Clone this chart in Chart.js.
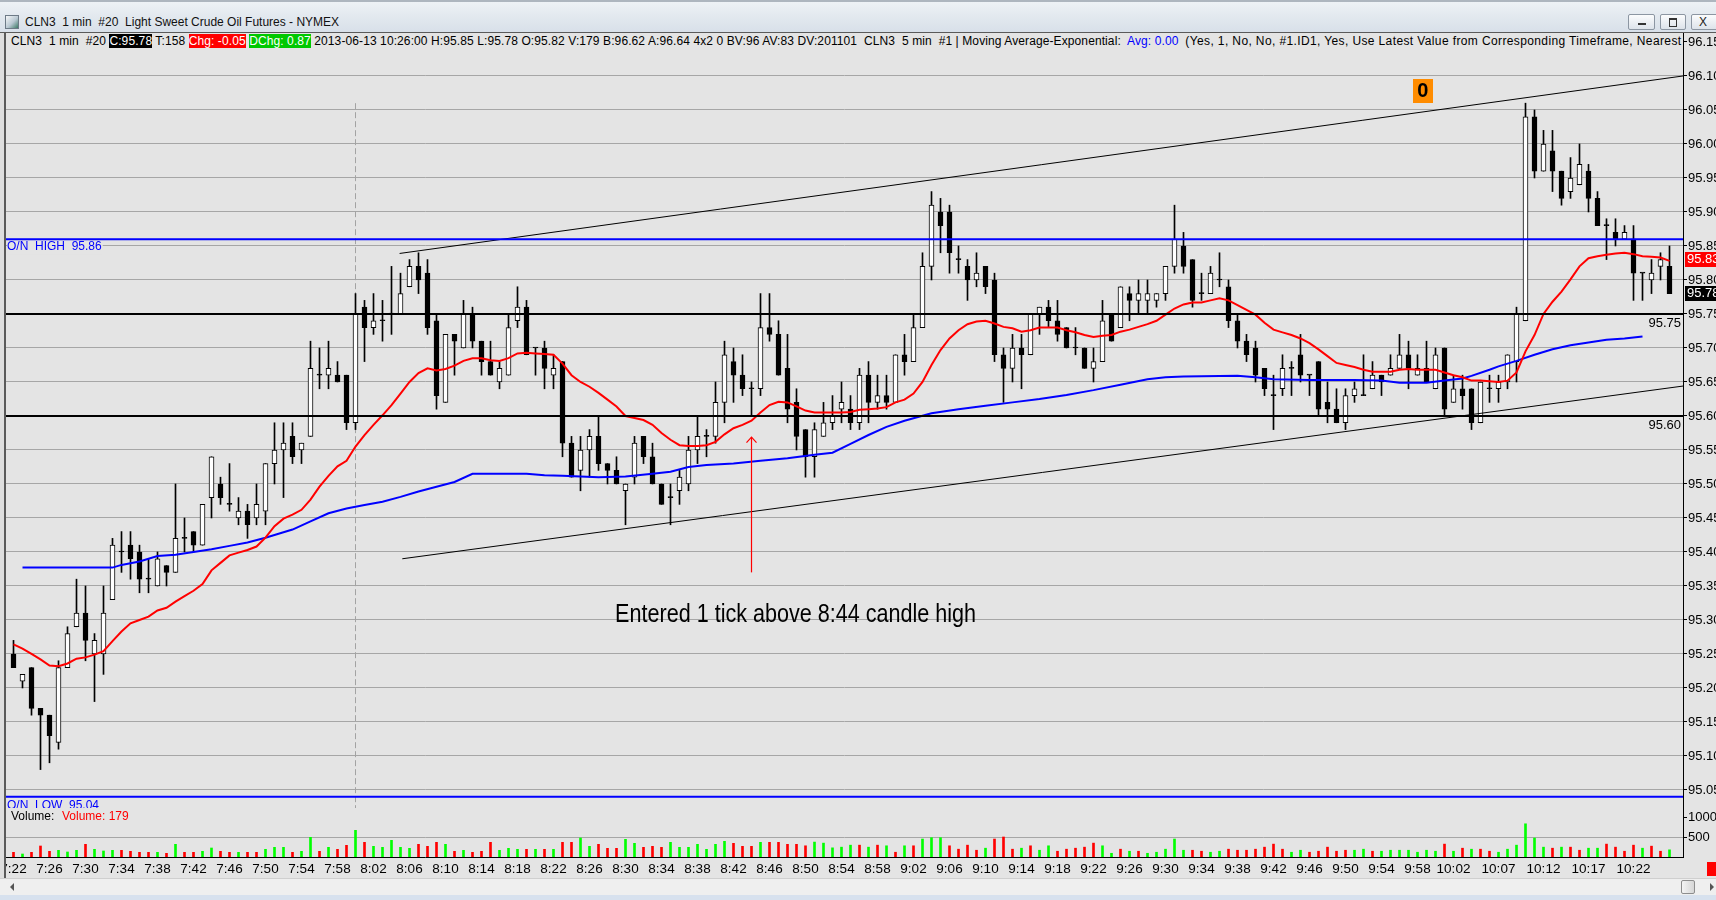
<!DOCTYPE html>
<html>
<head>
<meta charset="utf-8">
<title>CLN3 1 min #20 Light Sweet Crude Oil Futures - NYMEX</title>
<script src="https://cdn.jsdelivr.net/npm/chart.js@4.4.1/dist/chart.umd.min.js"></script>
<style>
  html, body { margin:0; padding:0; }
  body { width:1716px; height:900px; position:relative; overflow:hidden; background:#e4e4e4; font-family:'Liberation Sans', Arial, sans-serif; }
  #titlebar { position:absolute; left:0; top:0; width:1716px; height:32px; box-sizing:border-box;
    border-top:2px solid #aeb6bf; background:linear-gradient(#eef2f6 0%, #e3e9ef 45%, #d8e0e9 100%); }
  #titlebar .icon { position:absolute; left:5px; top:13px; width:12px; height:12px; border:1px solid #6d7a86;
    background:linear-gradient(135deg,#f6f7f8 0%, #b9c8d2 55%, #3d7a66 100%); }
  #titlebar .txt { position:absolute; left:25px; top:13px; font-size:12px; color:#111; white-space:pre; }
  .wbtn { position:absolute; top:12px; height:16px; border:1px solid #8c96a2; border-radius:2px; box-sizing:border-box;
    background:linear-gradient(#fbfcfd,#dde3ea); }
  .wbtn .min { position:absolute; left:9px; top:8px; width:8px; height:2px; background:#333; }
  .wbtn .max { position:absolute; left:8px; top:3px; width:6px; height:6px; border:1px solid #333; border-top-width:2px; }
  .wbtn .x { position:absolute; left:7px; top:0px; font-size:12px; line-height:14px; color:#222; }
  #frameTop { position:absolute; left:0; top:32px; width:1716px; height:1px; background:#5a5a5a; }
  #leftFrame { position:absolute; left:0; top:33px; width:4px; height:845px; background:#dedede; border-right:2px solid #5a5a5a; z-index:3; }
  #header { position:absolute; left:6px; top:33px; width:1677px; height:16px; overflow:hidden; white-space:pre;
    font-size:12px; letter-spacing:0.1px; line-height:16px; color:#000; background:#e4e4e4; z-index:2; padding-left:5px; box-sizing:border-box; }
  #header .blk { background:#000; color:#fff; }
  #header .red { background:#ff0000; color:#fff; }
  #header .grn { background:#00c800; color:#fff; }
  #header .blu { color:#0000ff; }
  #header .tail { letter-spacing:0.38px; }
  #pWrap { position:absolute; left:0; top:33px; width:1716px; height:775px; }
  #vWrap { position:absolute; left:0; top:808px; width:1716px; height:70px; }
  #scroll { position:absolute; left:0; top:878px; width:1716px; height:17px; background:#efefef; border-top:1px solid #cfcfcf; box-sizing:border-box; }
  #scroll .la { position:absolute; left:10px; top:4px; width:0; height:0; border-top:4px solid transparent; border-bottom:4px solid transparent; border-right:4px solid #555; }
  #scroll .thumb { position:absolute; left:1681px; top:1px; width:14px; height:14px; box-sizing:border-box; border:1px solid #8d8d8d; border-radius:2px; background:linear-gradient(90deg,#f4f4f4,#d6d6d6); }
  #scroll .ra { position:absolute; left:1710px; top:4px; width:0; height:0; border-top:4px solid transparent; border-bottom:4px solid transparent; border-left:4px solid #555; }
  #bottomStrip { position:absolute; left:0; top:895px; width:1716px; height:5px; background:#d7e1ee; }
</style>
</head>
<body>
<div id="titlebar">
  <div class="icon"></div>
  <div class="txt">CLN3  1 min  #20  Light Sweet Crude Oil Futures - NYMEX</div>
  <div class="wbtn" style="left:1628px;width:27px;"><div class="min"></div></div>
  <div class="wbtn" style="left:1660px;width:26px;"><div class="max"></div></div>
  <div class="wbtn" style="left:1691px;width:27px;"><div class="x">X</div></div>
</div>
<div id="frameTop"></div>
<div id="pWrap"><canvas id="pc" width="1716" height="775"></canvas></div>
<div id="vWrap"><canvas id="vc" width="1716" height="70"></canvas></div>
<div id="header">CLN3  1 min  #20 <span class="blk">C:95.78</span> T:158 <span class="red">Chg: -0.05</span> <span class="grn">DChg: 0.87</span> 2013-06-13 10:26:00 H:95.85 L:95.78 O:95.82 V:179 B:96.62 A:96.64 4x2 0 BV:96 AV:83 DV:201101  CLN3  5 min  #1 | Moving Average-Exponential:  <span class="blu">Avg: 0.00</span>  <span class="tail">(Yes, 1, No, No, #1.ID1, Yes, Use Latest Value from Corresponding Timeframe, Nearest Match)</span></div>
<div id="leftFrame"></div>
<div id="scroll"><div class="la"></div><div class="thumb"></div><div class="ra"></div></div>
<div id="bottomStrip"></div>

<script>
// ---------------- DATA ----------------
const startTime = '7:22';
const barCount = 185;
const shownTicks = ['7:22','7:26','7:30','7:34','7:38','7:42','7:46','7:50','7:54','7:58','8:02','8:06','8:10','8:14','8:18','8:22','8:26','8:30','8:34','8:38','8:42','8:46','8:50','8:54','8:58','9:02','9:06','9:10','9:14','9:18','9:22','9:26','9:30','9:34','9:38','9:42','9:46','9:50','9:54','9:58','10:02','10:07','10:12','10:17','10:22'];
const priceTicks = [95.05,95.10,95.15,95.20,95.25,95.30,95.35,95.40,95.45,95.50,95.55,95.60,95.65,95.70,95.75,95.80,95.85,95.90,95.95,96.00,96.05,96.10,96.15];
const volumeTicks = [500, 1000];

const open = [95.25,95.21,95.23,95.17,95.16,95.12,95.23,95.29,95.31,95.25,
95.25,95.33,95.40,95.41,95.40,95.36,95.35,95.38,95.37,95.42,
95.43,95.41,95.48,95.50,95.47,95.45,95.46,95.45,95.46,95.53,
95.55,95.57,95.55,95.57,95.66,95.66,95.66,95.66,95.59,95.76,
95.73,95.74,95.75,95.75,95.79,95.82,95.81,95.74,95.62,95.72,
95.70,95.75,95.71,95.68,95.65,95.66,95.74,95.76,95.70,95.70,
95.66,95.68,95.56,95.52,95.55,95.57,95.53,95.52,95.49,95.51,
95.57,95.54,95.50,95.48,95.49,95.50,95.55,95.57,95.57,95.62,
95.68,95.66,95.64,95.64,95.73,95.72,95.67,95.62,95.58,95.54,
95.57,95.59,95.61,95.61,95.59,95.66,95.62,95.63,95.62,95.69,
95.68,95.73,95.82,95.90,95.90,95.83,95.82,95.80,95.82,95.80,
95.69,95.67,95.70,95.69,95.75,95.76,95.74,95.73,95.70,95.70,
95.67,95.68,95.75,95.73,95.78,95.77,95.77,95.77,95.78,95.82,
95.85,95.83,95.78,95.78,95.80,95.79,95.74,95.71,95.70,95.67,
95.63,95.64,95.67,95.69,95.66,95.68,95.62,95.61,95.59,95.63,
95.63,95.64,95.66,95.66,95.67,95.69,95.66,95.67,95.64,95.70,
95.62,95.64,95.64,95.59,95.64,95.64,95.65,95.68,95.74,96.04,
95.96,95.99,95.96,95.93,95.94,95.96,95.92,95.88,95.87,95.86,
95.86,95.81,95.80,95.82,95.82];

const high = [95.27,95.22,95.23,95.17,95.16,95.24,95.29,95.36,95.35,95.28,
95.35,95.42,95.43,95.43,95.41,95.39,95.40,95.38,95.50,95.45,
95.43,95.47,95.54,95.51,95.53,95.48,95.47,95.50,95.53,95.59,
95.59,95.59,95.56,95.71,95.70,95.71,95.68,95.66,95.78,95.77,
95.78,95.77,95.82,95.81,95.83,95.84,95.83,95.75,95.72,95.72,
95.77,95.76,95.71,95.71,95.68,95.75,95.79,95.77,95.70,95.71,
95.69,95.68,95.57,95.57,95.58,95.60,95.53,95.54,95.50,95.57,
95.57,95.56,95.50,95.50,95.52,95.57,95.60,95.58,95.65,95.71,
95.70,95.69,95.65,95.78,95.78,95.74,95.72,95.64,95.58,95.59,
95.62,95.63,95.65,95.63,95.67,95.68,95.66,95.66,95.69,95.72,
95.75,95.84,95.93,95.92,95.91,95.85,95.83,95.84,95.82,95.81,
95.70,95.72,95.72,95.75,95.76,95.77,95.77,95.73,95.73,95.70,
95.70,95.77,95.75,95.79,95.79,95.80,95.80,95.78,95.82,95.91,
95.87,95.83,95.81,95.82,95.84,95.80,95.75,95.72,95.71,95.67,
95.66,95.69,95.68,95.72,95.66,95.68,95.65,95.64,95.64,95.65,
95.69,95.68,95.66,95.69,95.72,95.71,95.69,95.71,95.70,95.70,
95.66,95.66,95.64,95.65,95.66,95.66,95.69,95.76,96.06,96.05,
96.02,96.02,95.96,95.98,96.00,95.97,95.93,95.89,95.89,95.88,
95.88,95.81,95.83,95.84,95.85];

const low = [95.23,95.20,95.16,95.08,95.09,95.11,95.23,95.29,95.24,95.18,
95.22,95.33,95.37,95.36,95.34,95.34,95.35,95.35,95.37,95.40,
95.40,95.41,95.45,95.47,95.46,95.44,95.42,95.44,95.44,95.50,
95.48,95.53,95.53,95.57,95.64,95.64,95.65,95.58,95.58,95.68,
95.72,95.71,95.72,95.75,95.79,95.78,95.72,95.61,95.62,95.66,
95.70,95.70,95.66,95.66,95.64,95.66,95.73,95.69,95.66,95.64,
95.64,95.54,95.51,95.49,95.51,95.52,95.50,95.50,95.44,95.50,
95.53,95.50,95.47,95.44,95.47,95.49,95.53,95.54,95.56,95.59,
95.62,95.63,95.60,95.63,95.71,95.66,95.59,95.55,95.51,95.51,
95.57,95.58,95.59,95.58,95.58,95.59,95.61,95.61,95.62,95.66,
95.68,95.73,95.80,95.84,95.81,95.81,95.77,95.79,95.78,95.68,
95.62,95.65,95.64,95.69,95.72,95.73,95.71,95.70,95.69,95.67,
95.65,95.68,95.71,95.73,95.74,95.75,95.75,95.76,95.77,95.81,
95.81,95.76,95.77,95.78,95.79,95.73,95.70,95.68,95.65,95.63,
95.58,95.63,95.63,95.65,95.63,95.60,95.59,95.59,95.58,95.62,
95.63,95.64,95.63,95.66,95.67,95.64,95.66,95.65,95.64,95.60,
95.62,95.61,95.58,95.59,95.62,95.62,95.64,95.65,95.74,95.95,
95.96,95.93,95.91,95.92,95.94,95.90,95.88,95.83,95.85,95.86,
95.77,95.77,95.78,95.80,95.78];

const close = [95.23,95.22,95.17,95.16,95.13,95.23,95.28,95.31,95.27,95.27,
95.31,95.41,95.40,95.39,95.36,95.36,95.39,95.37,95.42,95.42,
95.41,95.47,95.54,95.48,95.47,95.46,95.44,95.47,95.53,95.55,
95.56,95.54,95.56,95.67,95.66,95.67,95.65,95.59,95.75,95.73,
95.74,95.74,95.75,95.78,95.82,95.80,95.73,95.63,95.72,95.71,
95.75,95.71,95.68,95.66,95.67,95.73,95.76,95.69,95.70,95.67,
95.67,95.56,95.51,95.55,95.57,95.53,95.52,95.50,95.50,95.56,
95.54,95.50,95.47,95.48,95.51,95.55,95.57,95.57,95.62,95.69,
95.66,95.64,95.64,95.73,95.72,95.66,95.61,95.57,95.54,95.58,
95.59,95.60,95.62,95.59,95.66,95.62,95.63,95.62,95.69,95.68,
95.73,95.82,95.91,95.88,95.84,95.83,95.80,95.81,95.79,95.69,
95.67,95.70,95.69,95.75,95.76,95.74,95.72,95.70,95.70,95.67,
95.68,95.74,95.71,95.79,95.77,95.78,95.78,95.78,95.82,95.86,
95.82,95.77,95.78,95.81,95.80,95.74,95.71,95.69,95.66,95.64,
95.63,95.67,95.67,95.66,95.66,95.61,95.61,95.59,95.63,95.64,
95.63,95.66,95.65,95.67,95.69,95.67,95.67,95.65,95.69,95.61,
95.64,95.63,95.59,95.65,95.64,95.65,95.69,95.75,96.04,95.96,
96.00,95.96,95.92,95.95,95.97,95.92,95.88,95.88,95.86,95.87,
95.81,95.81,95.81,95.83,95.78];

const volume = [117,75,117,275,142,167,125,167,317,192,
150,167,167,142,117,117,117,92,317,117,
117,142,225,142,117,117,117,117,192,242,
242,117,142,492,142,242,192,292,667,367,
267,242,417,242,217,317,267,367,317,142,
167,117,142,367,167,217,192,192,192,192,
192,367,367,475,267,317,217,217,442,342,
242,267,242,367,242,242,317,192,317,392,
342,267,267,367,367,367,317,317,280,373,
347,229,246,296,296,246,296,280,119,280,
280,449,483,483,280,195,296,169,220,449,
500,195,220,280,169,280,144,195,220,246,
347,280,93,195,144,144,93,119,195,449,
169,169,144,119,144,195,169,169,195,246,
322,195,119,169,119,144,246,144,169,169,
195,144,144,169,169,169,119,169,144,322,
144,220,195,195,144,119,195,296,830,474,
246,220,246,246,169,220,220,322,246,144,
296,220,271,144,179];

// volume bar direction: g = up (green), r = down (red)
const volumeDir = 'rgrrrgggrg' + 'ggrrrrgrgr' + 'rggrrgrrgg' + 'grggrgrrgr' + 'gggggrrrgr' +
                  'grrrgggrgr' + 'grrggrrrgg' + 'rrrggggggg' + 'rrrgrrrrrg' + 'ggggrgrgrg' +
                  'rgggrrrrgr' + 'rrgrggrrrr' + 'rggrgrgggg' + 'grrggrrrrr' + 'rrggrrrrrg' +
                  'grgggggggr' + 'grgrrggggg' + 'grgrrggrrr' + 'rgrrggr';

// fast EMA (red), one value per bar
const emaFast = [95.264,95.258,95.250,95.242,95.233,95.232,95.236,95.243,95.245,95.249,
95.254,95.269,95.283,95.295,95.300,95.305,95.314,95.318,95.327,95.335,
95.343,95.353,95.373,95.384,95.395,95.399,95.403,95.408,95.421,95.438,
95.449,95.455,95.462,95.477,95.496,95.512,95.526,95.534,95.555,95.572,
95.587,95.601,95.616,95.633,95.650,95.663,95.670,95.667,95.669,95.674,
95.681,95.685,95.685,95.682,95.681,95.685,95.692,95.693,95.692,95.691,
95.690,95.677,95.660,95.650,95.643,95.634,95.624,95.614,95.600,95.597,
95.594,95.587,95.575,95.565,95.557,95.556,95.556,95.557,95.562,95.573,
95.582,95.587,95.593,95.605,95.616,95.621,95.620,95.614,95.608,95.605,
95.605,95.605,95.605,95.606,95.609,95.610,95.611,95.613,95.620,95.624,
95.633,95.650,95.675,95.697,95.714,95.726,95.735,95.739,95.740,95.736,
95.731,95.729,95.724,95.726,95.730,95.730,95.730,95.726,95.723,95.719,
95.716,95.718,95.719,95.724,95.727,95.731,95.735,95.740,95.749,95.758,
95.764,95.767,95.767,95.770,95.773,95.770,95.763,95.756,95.749,95.737,
95.727,95.723,95.719,95.714,95.707,95.698,95.688,95.678,95.675,95.672,
95.668,95.665,95.665,95.665,95.668,95.669,95.668,95.668,95.668,95.664,
95.660,95.657,95.652,95.652,95.651,95.650,95.652,95.664,95.695,95.719,
95.750,95.768,95.783,95.801,95.820,95.832,95.835,95.837,95.839,95.840,
95.838,95.835,95.834,95.833,95.828];

// slow EMA from the 5 min series (blue), read at these bar indices
const emaSlowIdx = [1,11,12,14,16,18,20,22,24,26,28,30,31,33,35,37,39,41,43,45,47,49,51,57,59,61,63,65,68,71,73,75,77,80,83,86,89,91,93,95,97,99,102,105,108,111,114,117,120,123,126,128,130,136,138,140,144,149,152,154,157,159,161,162,164,165,167,169,171,173,175,177,179,181];
const emaSlow = [95.377,95.377,95.381,95.386,95.394,95.396,95.400,95.404,95.409,95.414,95.421,95.429,95.433,95.445,95.457,95.464,95.469,95.474,95.481,95.489,95.496,95.503,95.515,95.515,95.513,95.512,95.511,95.510,95.511,95.515,95.518,95.525,95.528,95.530,95.534,95.538,95.543,95.546,95.559,95.572,95.584,95.593,95.604,95.610,95.615,95.620,95.625,95.631,95.638,95.646,95.654,95.657,95.658,95.659,95.657,95.654,95.653,95.653,95.652,95.649,95.649,95.652,95.655,95.659,95.668,95.673,95.681,95.690,95.698,95.704,95.708,95.712,95.714,95.717];

// drawn levels and objects (prices / bar indices)
const onHigh = 95.86, onLow = 95.04;
const levelLines = [95.75, 95.60];
const upperTrend = [[42.9, 95.839], [185.5, 96.10]];
const lowerTrend = [[43.2, 95.390], [185.5, 95.644]];
const sessionBar = 38, sessionTop = 96.06;
const entryBar = 82, arrowTip = 95.569, arrowTail = 95.37;
const noteText = 'Entered 1 tick above 8:44 candle high';
const notePos = [86.9, 95.307];
const markerPos = [156.6, 96.078], markerText = '0';
const emaLast = 95.83, lastClose = 95.78, lastVolume = 179;

// ---------------- BUILD ----------------
function toMin(t){ const [h,m] = t.split(':').map(Number); return h*60+m; }
const times = Array.from({length: barCount}, (_, i) => {
  const m = toMin(startTime) + i;
  return Math.floor(m/60) + ':' + String(m%60).padStart(2,'0');
});
const idx = times.map((_, i) => i);

const X_MIN = -0.8333, X_MAX = 185.5;
const Y_MIN = 95.0235, Y_MAX = 96.1632;
const NARROW = "'Liberation Sans Narrow','Liberation Sans',Arial,sans-serif";
const SANS = "'Liberation Sans',Arial,sans-serif";

const wickData = idx.map(i => ({x: i, y: [low[i], high[i]]}));
const bodyData = idx.map(i => ({x: i, y: [open[i], close[i]]}));
const bodyFill = idx.map(i => close[i] > open[i] ? '#ffffff' : '#000000');

function hLine(p){ return [{x: X_MIN, y: p}, {x: X_MAX, y: p}]; }
function seg(a){ return a.map(([x, y]) => ({x, y})); }

const priceDeco = {
  id: 'priceDeco',
  beforeDatasetsDraw(chart) {
    const {ctx, chartArea, scales: {x, y}} = chart;
    const px = Math.floor(x.getPixelForValue(sessionBar)) + 0.5;
    ctx.save();
    ctx.strokeStyle = '#a3a3a3'; ctx.lineWidth = 1; ctx.setLineDash([6, 3]);
    ctx.beginPath(); ctx.moveTo(px, y.getPixelForValue(sessionTop)); ctx.lineTo(px, chartArea.bottom); ctx.stroke();
    ctx.restore();
  },
  afterDatasetsDraw(chart) {
    const {ctx, chartArea, scales: {x, y}} = chart;
    ctx.save();
    ctx.font = '12px ' + SANS; ctx.textBaseline = 'top'; ctx.textAlign = 'left';
    const hiY = y.getPixelForValue(onHigh);
    const tHi = 'O/N  HIGH  ' + onHigh.toFixed(2);
    const wHi = ctx.measureText(tHi).width;
    ctx.fillStyle = '#e4e4e4'; ctx.fillRect(chartArea.left + 1, hiY + 2, wHi + 1, 13);
    ctx.fillStyle = '#0000ff'; ctx.fillText(tHi, chartArea.left + 1, hiY + 2);
    const loY = y.getPixelForValue(onLow);
    ctx.fillText('O/N  LOW  ' + onLow.toFixed(2), chartArea.left + 1, loY + 3);
    ctx.font = '13px ' + NARROW; ctx.fillStyle = '#000'; ctx.textAlign = 'right';
    levelLines.forEach(p => ctx.fillText(p.toFixed(2), chartArea.right - 2, y.getPixelForValue(p) + 3));
    const ax = Math.floor(x.getPixelForValue(entryBar)) + 0.5;
    const tipY = y.getPixelForValue(arrowTip), tailY = y.getPixelForValue(arrowTail);
    ctx.strokeStyle = '#ff0000'; ctx.lineWidth = 1.2;
    ctx.beginPath(); ctx.moveTo(ax, tailY); ctx.lineTo(ax, tipY); ctx.stroke();
    ctx.beginPath(); ctx.moveTo(ax - 5, tipY + 5.5); ctx.lineTo(ax, tipY); ctx.lineTo(ax + 5, tipY + 5.5); ctx.stroke();
    ctx.font = '26px ' + NARROW; ctx.fillStyle = '#000'; ctx.textAlign = 'center'; ctx.textBaseline = 'middle';
    const nw = ctx.measureText(noteText).width;
    ctx.save();
    ctx.translate(x.getPixelForValue(notePos[0]), y.getPixelForValue(notePos[1]));
    ctx.scale(361 / nw, 1);
    ctx.fillText(noteText, 0, 0);
    ctx.restore();
    const mx = x.getPixelForValue(markerPos[0]), my = y.getPixelForValue(markerPos[1]);
    ctx.fillStyle = '#ff8c00'; ctx.fillRect(Math.round(mx - 10), Math.round(my - 12), 20, 24);
    ctx.fillStyle = '#000'; ctx.font = 'bold 20px ' + SANS; ctx.textAlign = 'center'; ctx.textBaseline = 'middle';
    ctx.fillText(markerText, mx, my + 1);
    ctx.restore();
  },
  afterDraw(chart) {
    const {ctx, chartArea, scales: {y}} = chart;
    ctx.save();
    ctx.font = '13px ' + NARROW; ctx.textBaseline = 'middle'; ctx.textAlign = 'left';
    [[emaLast, '#ff0000'], [lastClose, '#000000']].forEach(([v, c]) => {
      const py = y.getPixelForValue(v);
      ctx.fillStyle = c; ctx.fillRect(chartArea.right + 2, Math.round(py - 7.5), chart.width - chartArea.right - 2, 15);
      ctx.fillStyle = '#fff'; ctx.fillText(v.toFixed(2), chartArea.right + 4, py);
    });
    ctx.restore();
  }
};

new Chart(document.getElementById('pc'), {
  type: 'bar',
  data: {
    datasets: [
      { type: 'line', data: hLine(onHigh), borderColor: '#0000ff', borderWidth: 2, pointRadius: 0, order: 1 },
      { type: 'line', data: hLine(onLow), borderColor: '#0000ff', borderWidth: 2, pointRadius: 0, order: 1 },
      { type: 'line', data: hLine(levelLines[0]), borderColor: '#000000', borderWidth: 2, pointRadius: 0, order: 1 },
      { type: 'line', data: hLine(levelLines[1]), borderColor: '#000000', borderWidth: 2, pointRadius: 0, order: 1 },
      { type: 'line', data: seg(upperTrend), borderColor: '#000000', borderWidth: 1, pointRadius: 0, order: 2 },
      { type: 'line', data: seg(lowerTrend), borderColor: '#000000', borderWidth: 1, pointRadius: 0, order: 2 },
      { type: 'line', data: idx.map(i => ({x: i, y: emaFast[i]})), borderColor: '#ff0000', borderWidth: 2, pointRadius: 0, tension: 0, order: 3 },
      { type: 'line', data: emaSlowIdx.map((b, k) => ({x: b, y: emaSlow[k]})), borderColor: '#0000ff', borderWidth: 2, pointRadius: 0, tension: 0, order: 3 },
      { type: 'bar', data: bodyData, backgroundColor: bodyFill, borderColor: '#000000', borderWidth: 1, borderSkipped: false,
        barThickness: 5, minBarLength: 1, grouped: false, order: 8 },
      { type: 'bar', data: wickData, backgroundColor: '#000000', borderWidth: 0, barThickness: 1, grouped: false, order: 9 }
    ]
  },
  options: {
    responsive: false, animation: false, events: [],
    layout: { padding: { left: 6, right: 0, top: 0, bottom: 0 } },
    plugins: { legend: { display: false }, tooltip: { enabled: false } },
    scales: {
      x: { type: 'linear', min: X_MIN, max: X_MAX, display: false, offset: false, grid: { display: false } },
      y: { type: 'linear', position: 'right', min: Y_MIN, max: Y_MAX, beginAtZero: false,
        afterBuildTicks: s => { s.ticks = priceTicks.map(v => ({value: v})); },
        afterFit: s => { s.width = 33; s.paddingTop = 0; s.paddingBottom = 0; },
        grid: { color: '#a6a6a6', lineWidth: 1, drawTicks: true, tickLength: 4, tickColor: '#000' },
        border: { display: true, color: '#000', width: 1 },
        ticks: { color: '#000', padding: 1, font: { family: NARROW, size: 13 }, callback: v => Number(v).toFixed(2) } }
    }
  },
  plugins: [priceDeco]
});

const volDeco = {
  id: 'volDeco',
  afterDraw(chart) {
    const {ctx, chartArea} = chart;
    ctx.save();
    ctx.font = '12px ' + SANS; ctx.textBaseline = 'middle'; ctx.textAlign = 'left';
    ctx.fillStyle = '#000'; ctx.fillText('Volume:', 11, 9);
    ctx.fillStyle = '#ff0000'; ctx.fillText('Volume: ' + lastVolume, 62, 9);
    ctx.fillStyle = '#ff0000'; ctx.fillRect(chart.width - 9, chartArea.bottom + 5, 9, 14);
    ctx.restore();
  }
};

new Chart(document.getElementById('vc'), {
  type: 'bar',
  data: {
    datasets: [{
      data: idx.map(i => ({x: i, y: volume[i]})),
      backgroundColor: idx.map(i => volumeDir[i] === 'g' ? '#00ff00' : '#ff0000'),
      borderWidth: 0, barThickness: 2, grouped: false
    }]
  },
  options: {
    responsive: false, animation: false, events: [],
    layout: { padding: { left: 6, right: 0, top: 0, bottom: 0 } },
    plugins: { legend: { display: false }, tooltip: { enabled: false } },
    scales: {
      x: { type: 'linear', min: X_MIN, max: X_MAX, offset: false,
        grid: { display: false, drawTicks: false },
        border: { display: true, color: '#000', width: 1 },
        afterBuildTicks: s => { s.ticks = shownTicks.map(t => ({value: times.indexOf(t)})); },
        afterFit: s => { s.height = 21; s.paddingLeft = 0; s.paddingRight = 0; },
        ticks: { autoSkip: false, maxRotation: 0, minRotation: 0, padding: 4, color: '#000',
          font: { family: NARROW, size: 13.5 }, callback: v => times[v] } },
      y: { type: 'linear', position: 'right', min: 0, max: 1225,
        afterBuildTicks: s => { s.ticks = volumeTicks.map(v => ({value: v})); },
        afterFit: s => { s.width = 33; s.paddingTop = 0; s.paddingBottom = 0; },
        grid: { color: c => (c.tick && c.tick.value === 500) ? '#a6a6a6' : 'rgba(0,0,0,0)', drawTicks: true, tickLength: 4, tickColor: '#000' },
        border: { display: true, color: '#000', width: 1 },
        ticks: { color: '#000', padding: 1, font: { family: NARROW, size: 13 }, callback: v => String(v) } }
    }
  },
  plugins: [volDeco]
});
</script>
</body>
</html>
